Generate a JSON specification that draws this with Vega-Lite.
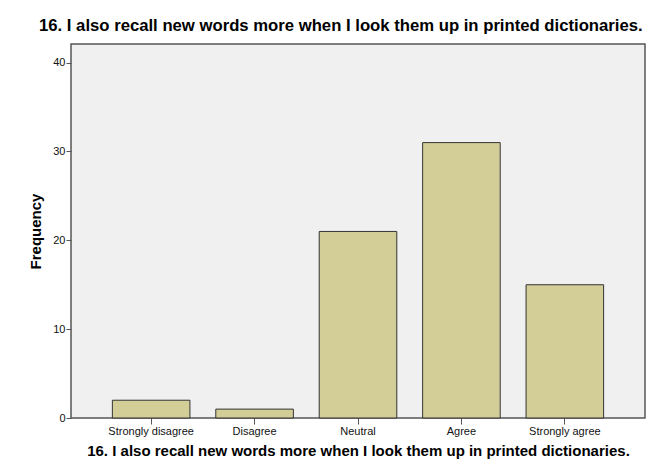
{
  "$schema": "https://vega.github.io/schema/vega-lite/v6.json",
  "width": 574,
  "height": 374,
  "autosize": {"type": "none"},
  "padding": {"left": 71, "top": 44, "right": 4, "bottom": 50},
  "background": "white",
  "title": {
    "text": "16. I also recall new words more when I look them up in printed dictionaries.",
    "anchor": "start",
    "frame": "group",
    "dx": -32,
    "offset": 9,
    "font": "Liberation Sans",
    "fontSize": 16.7,
    "fontWeight": "bold",
    "color": "black"
  },
  "data": {
    "values": [
      {"response": "Strongly disagree", "count": 2},
      {"response": "Disagree", "count": 1},
      {"response": "Neutral", "count": 21},
      {"response": "Agree", "count": 31},
      {"response": "Strongly agree", "count": 15}
    ]
  },
  "mark": {"type": "bar", "fill": "#D3CE97", "stroke": "#333333", "strokeWidth": 1},
  "encoding": {
    "x": {
      "field": "response",
      "type": "nominal",
      "sort": null,
      "title": "16. I also recall new words more when I look them up in printed dictionaries.",
      "scale": {"paddingInner": 0.25, "paddingOuter": 0.4},
      "axis": {
        "labelAngle": 0,
        "labelFont": "Liberation Sans",
        "labelFontSize": 11,
        "labelColor": "#111111",
        "labelPadding": 1,
        "tickSize": 6,
        "tickColor": "#555555",
        "domain": false,
        "titleFont": "Liberation Sans",
        "titleFontSize": 15,
        "titleFontWeight": "bold",
        "titleColor": "black",
        "titlePadding": 7
      }
    },
    "y": {
      "field": "count",
      "type": "quantitative",
      "title": "Frequency",
      "scale": {"domain": [0, 42.1], "nice": false},
      "axis": {
        "values": [0, 10, 20, 30, 40],
        "grid": false,
        "labelFont": "Liberation Sans",
        "labelFontSize": 11,
        "labelColor": "#111111",
        "labelPadding": 1,
        "tickSize": 5,
        "tickColor": "#555555",
        "domain": false,
        "titleFont": "Liberation Sans",
        "titleFontSize": 15,
        "titleFontWeight": "bold",
        "titleColor": "black",
        "titlePadding": 9
      }
    }
  },
  "config": {
    "view": {"fill": "#F0F0F0", "stroke": "#555555", "strokeWidth": 1.5}
  }
}
